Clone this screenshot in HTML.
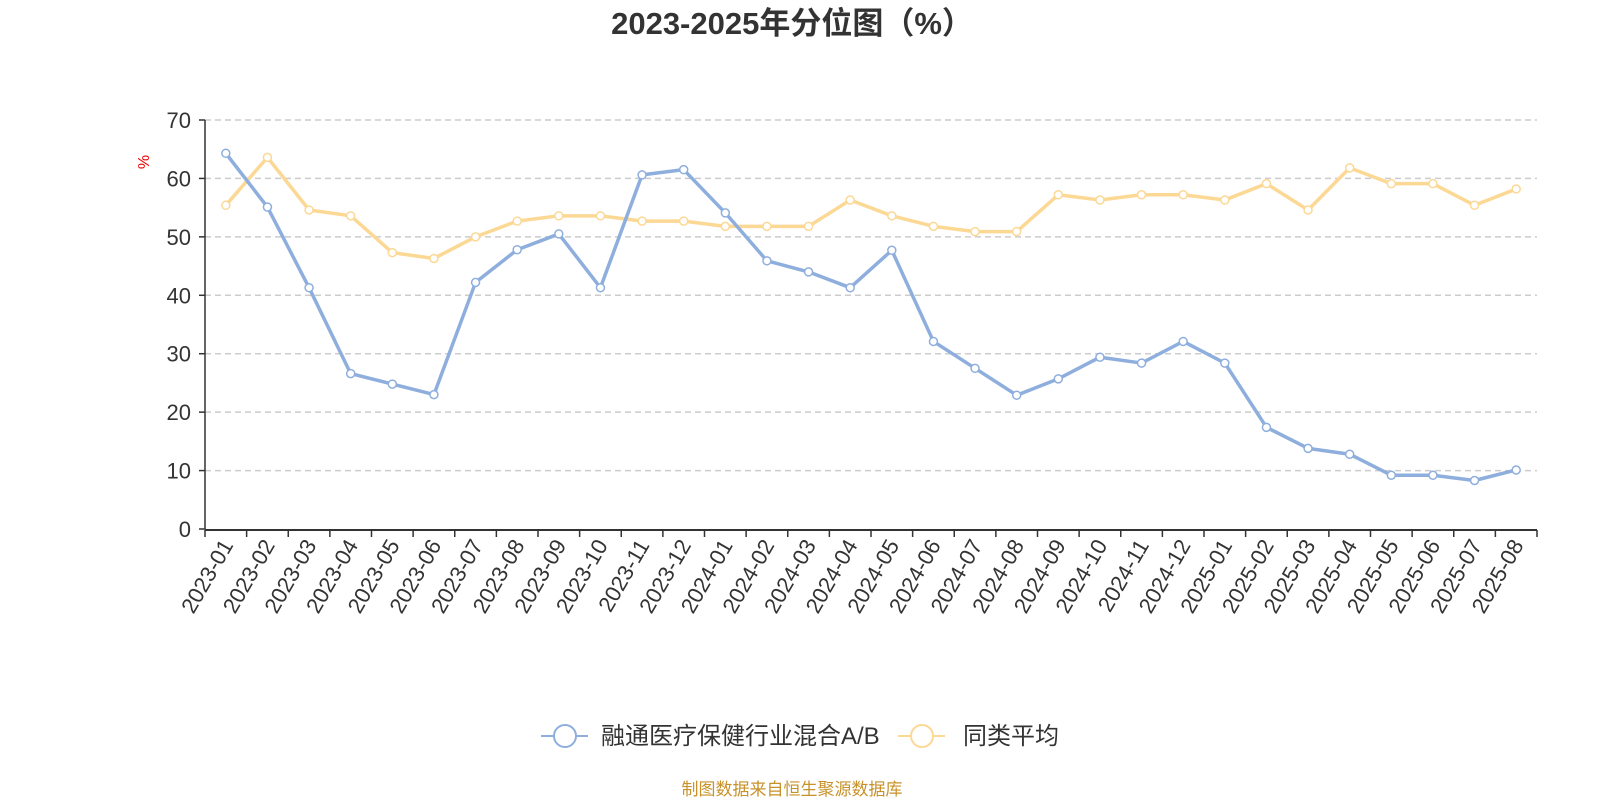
<!DOCTYPE html>
<html><head><meta charset="utf-8"><style>
body{margin:0;background:#fff;width:1600px;height:800px;overflow:hidden;font-family:"Liberation Sans","Noto Sans CJK SC",sans-serif}
</style></head><body>
<svg id="c" width="1600" height="800" xmlns="http://www.w3.org/2000/svg">
<text x="792" y="34" text-anchor="middle" font-size="31" font-weight="bold" fill="#333" font-family="Liberation Sans,Noto Sans CJK SC,sans-serif">2023-2025年分位图（%）</text>
<text x="0" y="0" transform="translate(149,162) rotate(-90)" text-anchor="middle" font-size="16" fill="#e00">%</text>
<g id="grid"></g><g id="axes"></g><g id="series"></g>
<g>
<line x1="541" y1="736" x2="588" y2="736" stroke="#8eaedd" stroke-width="2"/>
<circle cx="565" cy="736" r="11" fill="#fff" stroke="#8eaedd" stroke-width="2"/>
<text x="601" y="744" font-size="24" fill="#333">融通医疗保健行业混合A/B</text>
<line x1="898" y1="736" x2="945" y2="736" stroke="#fcd895" stroke-width="2"/>
<circle cx="922" cy="736" r="11" fill="#fff" stroke="#fcd895" stroke-width="2"/>
<text x="963" y="744" font-size="24" fill="#333">同类平均</text>
</g>
<text x="792" y="795" text-anchor="middle" font-size="17" fill="#c8922a">制图数据来自恒生聚源数据库</text>
</svg>
<script>
const categories=["2023-01","2023-02","2023-03","2023-04","2023-05","2023-06","2023-07","2023-08","2023-09","2023-10","2023-11","2023-12","2024-01","2024-02","2024-03","2024-04","2024-05","2024-06","2024-07","2024-08","2024-09","2024-10","2024-11","2024-12","2025-01","2025-02","2025-03","2025-04","2025-05","2025-06","2025-07","2025-08"];
const fundValues=[64.3,55.1,41.3,26.6,24.8,23.0,42.2,47.8,50.5,41.3,60.6,61.5,54.1,45.9,44.0,41.3,47.7,32.1,27.5,22.9,25.7,29.4,28.4,32.1,28.4,17.4,13.8,12.8,9.2,9.2,8.3,10.1];
const avgValues=[55.4,63.6,54.6,53.6,47.3,46.3,50.0,52.7,53.6,53.6,52.7,52.7,51.8,51.8,51.8,56.3,53.6,51.8,50.9,50.9,57.2,56.3,57.2,57.2,56.3,59.1,54.6,61.8,59.1,59.1,55.4,58.2];
const yTicks=[0,10,20,30,40,50,60,70];
const NS="http://www.w3.org/2000/svg";
const L=205,R=1537,T=120,B=529,yMax=70;
const bw=(R-L)/categories.length;
const x=i=>L+bw*(i+0.5);
const y=v=>B-(v/yMax)*(B-T);
function mk(tag,attrs,parent){const e=document.createElementNS(NS,tag);for(const k in attrs)e.setAttribute(k,attrs[k]);parent.appendChild(e);return e;}
const grid=document.getElementById('grid'),axes=document.getElementById('axes'),ser=document.getElementById('series');
yTicks.forEach(t=>{
  if(t>0){const g=mk('line',{x1:L,x2:R,y1:y(t),y2:y(t),stroke:'#ccc','stroke-dasharray':'6,4','stroke-width':1.5},grid);
  
  }
  const tl=mk('text',{x:L-14,y:y(t)+8,'text-anchor':'end','font-size':22,fill:'#333'},axes);
  tl.textContent=t;
  
  
  mk('line',{x1:L-6,x2:L,y1:y(t),y2:y(t),stroke:'#333','stroke-width':1.5},axes);
});
const ya=mk('line',{x1:L,x2:L,y1:T,y2:B,stroke:'#333','stroke-width':1.5},axes);


const xa=mk('line',{x1:L,x2:R,y1:B+1,y2:B+1,stroke:'#333','stroke-width':2},axes);


for(let i=0;i<=categories.length;i++){mk('line',{x1:L+bw*i,x2:L+bw*i,y1:B+1,y2:B+8,stroke:'#333','stroke-width':1.5},axes);}
categories.forEach((c,i)=>{
  const tx=x(i)+8,ty=B+16;
  const t=mk('text',{x:tx,y:ty,'text-anchor':'end','font-size':22,fill:'#333',transform:`rotate(-60 ${tx} ${ty})`},axes);
  t.textContent=c;
  
  
});
function draw(vals,color,name){
  const p=mk('polyline',{points:vals.map((v,i)=>x(i)+','+y(v)).join(' '),fill:'none',stroke:color,'stroke-width':3.5,'stroke-linejoin':'round'},ser);
  
  
  vals.forEach((v,i)=>{
    const c=mk('circle',{cx:x(i),cy:y(v),r:4,fill:'#fff',stroke:color,'stroke-width':1.5},ser);
    
    
  });
}
draw(avgValues,'#fcd895','avg');
draw(fundValues,'#8eaedd','fund');
</script>
</body></html>
